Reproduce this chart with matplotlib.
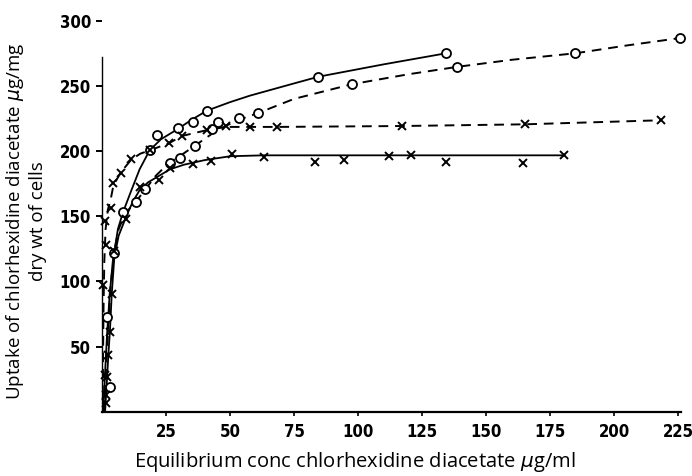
import matplotlib
matplotlib.use("Agg")
import matplotlib.pyplot as plt
from matplotlib import font_manager

# Measured uptake points (x: equilibrium conc, y: uptake)
a_x = [2.1, 8.1, 18.6, 21.6, 29.6, 35.7, 40.9, 84.5, 134.4]
a_y = [73, 153, 200.5, 212, 218, 222, 231, 257, 275]

b_x = [3.1, 4.5, 13.2, 16.8, 26.6, 30.3, 36.2, 42.8, 45.2, 53.5, 60.8, 97.7, 138.8, 184.9, 225.8]
b_y = [19, 122, 161, 170.5, 191, 195, 204, 216.7, 222, 225.7, 228.8, 251.3, 264.6, 275, 286.7]

c_x = [0.5, 1.2, 1.6, 1.3, 3.4, 4.3, 7.5, 11.5, 18.6, 26.2, 31.1, 40.9, 48.4, 57.8, 68.5, 117.3, 165.2, 218.2]
c_y = [97, 28, 128, 146, 156.5, 175.7, 183.4, 193.6, 200.5, 206, 211.5, 216, 219, 218.5, 218.5, 219.2, 220.5, 223.6]

d_x = [1.4, 1.6, 2.1, 2.5, 3.1, 3.8, 4.8, 9.5, 14.7, 22.3, 26.6, 35.5, 42.5, 50.7, 63.3, 83.2, 94.5,
       112.2, 120.6, 134.4, 164.3, 180.5]
d_y = [6.4, 12.8, 27, 43.6, 61.5, 90.5, 123, 147.5, 172.6, 178, 187, 189.8, 192, 197.5, 195.7, 191.5,
       192.8, 196, 196.7, 191.5, 191, 196.7]

# Hand-fitted curves drawn through each set
a_cx = [0.5, 1.2, 2.0, 3.0, 4.2, 6.2, 8.2, 11.5, 14.7, 18.6, 23, 29.7, 35, 41, 50, 57.8, 73.4, 84.5, 110, 134.4]
a_cy = [0, 30, 60, 90, 115, 140, 153, 170, 186, 200.5, 209, 217, 224, 231, 237.5, 242.5, 251, 257, 266.5, 275]

b_cx = [0.8, 1.5, 2.3, 3.3, 4.7, 6.5, 9, 13.2, 16.7, 21, 26.2, 30.3, 36.2, 42.8, 48, 53.5, 60.8, 75, 97.7,
        120, 138.8, 160, 184.9, 205, 225.8]
b_cy = [0, 30, 60, 95, 122, 140, 152, 161, 170, 181, 191, 196, 204, 213, 219, 224, 229, 240, 251.3,
        259, 264.6, 270, 275, 281, 286.7]

c_cx = [0.2, 0.4, 0.6, 0.9, 1.4, 2.3, 3.4, 4.5, 7.5, 11.5, 15, 18.6, 26.2, 31.1, 40.9, 48.4, 57.8, 68.5,
        117.3, 165.2, 218.2]
c_cy = [0, 40, 80, 115, 140, 155, 163, 174, 184, 193.6, 198, 200.5, 206, 211.5, 216, 218.5, 218.5, 218.5,
        219.2, 220.5, 223.6]

d_cx = [1.2, 1.8, 2.5, 3.1, 3.8, 4.8, 6.5, 9.5, 12, 14.7, 18, 22.3, 26.6, 32, 40, 50, 63, 180.5]
d_cy = [0, 20, 44, 62, 90, 118, 135, 150, 161, 170, 176, 181, 186, 189.5, 193, 196, 196.7, 196.7]

x_ticks = [25, 50, 75, 100, 125, 150, 175, 200, 225]
y_ticks = [50, 100, 150, 200, 250, 300]

# Pick a narrow face for the numerals if one is available
installed = {f.name for f in font_manager.fontManager.ttflist}
narrow = "Liberation Sans Narrow" if "Liberation Sans Narrow" in installed else "DejaVu Sans"

fig = plt.figure(figsize=(6.92, 4.76), dpi=100)
ax = fig.add_axes([102 / 692, 1 - 411.7 / 476, (226 * 2.56) / 692, (411.7 - 20.7) / 476])

dash = (0, (5, 3.5))
ax.plot(a_cx, a_cy, color="black", lw=1.3, solid_joinstyle="round")
ax.plot(b_cx, b_cy, color="black", lw=1.4, linestyle=dash)
ax.plot(c_cx, c_cy, color="black", lw=1.4, linestyle=dash)
ax.plot(d_cx, d_cy, color="black", lw=1.3, solid_joinstyle="round")

ax.plot(a_x, a_y, "o", ms=6.5, mfc="white", mec="black", mew=1.3, clip_on=False)
ax.plot(b_x, b_y, "o", ms=6.5, mfc="white", mec="black", mew=1.3, clip_on=False)
ax.plot(c_x, c_y, "x", ms=5.5, mec="black", mew=1.4, clip_on=False)
ax.plot(d_x, d_y, "x", ms=5.5, mec="black", mew=1.4, clip_on=False)

ax.set_xlim(0, 226)
ax.set_ylim(0, 300)

for s in ("top", "right"):
    ax.spines[s].set_visible(False)
ax.spines["left"].set_bounds(0, 272)
ax.spines["left"].set_linewidth(1.0)
ax.spines["bottom"].set_linewidth(1.6)

tick_font = {"family": narrow, "weight": "bold", "size": 12, "stretch": "condensed"}
ax.set_xticks(x_ticks)
ax.set_xticklabels([str(v) for v in x_ticks], fontdict=tick_font)
ax.set_yticks(y_ticks)
ax.set_yticklabels([str(v) for v in y_ticks], fontdict=tick_font)
ax.tick_params(axis="x", direction="out", length=3, width=1.2, pad=5)
ax.tick_params(axis="y", direction="out", length=4, width=1.4, pad=4)

fig.text(355 / 692, 1 - 462 / 476, r"Equilibrium conc chlorhexidine diacetate $\mu$g/ml",
         ha="center", va="center", family="Open Sans", size=14.5)
fig.text(15 / 692, 1 - 221 / 476, r"Uptake of chlorhexidine diacetate $\mu$g/mg",
         ha="center", va="center", rotation=90, family="Open Sans", size=13.5)
fig.text(38 / 692, 1 - 221 / 476, "dry wt of cells",
         ha="center", va="center", rotation=90, family="Open Sans", size=13.5)

fig.savefig("out.png", dpi=100)
